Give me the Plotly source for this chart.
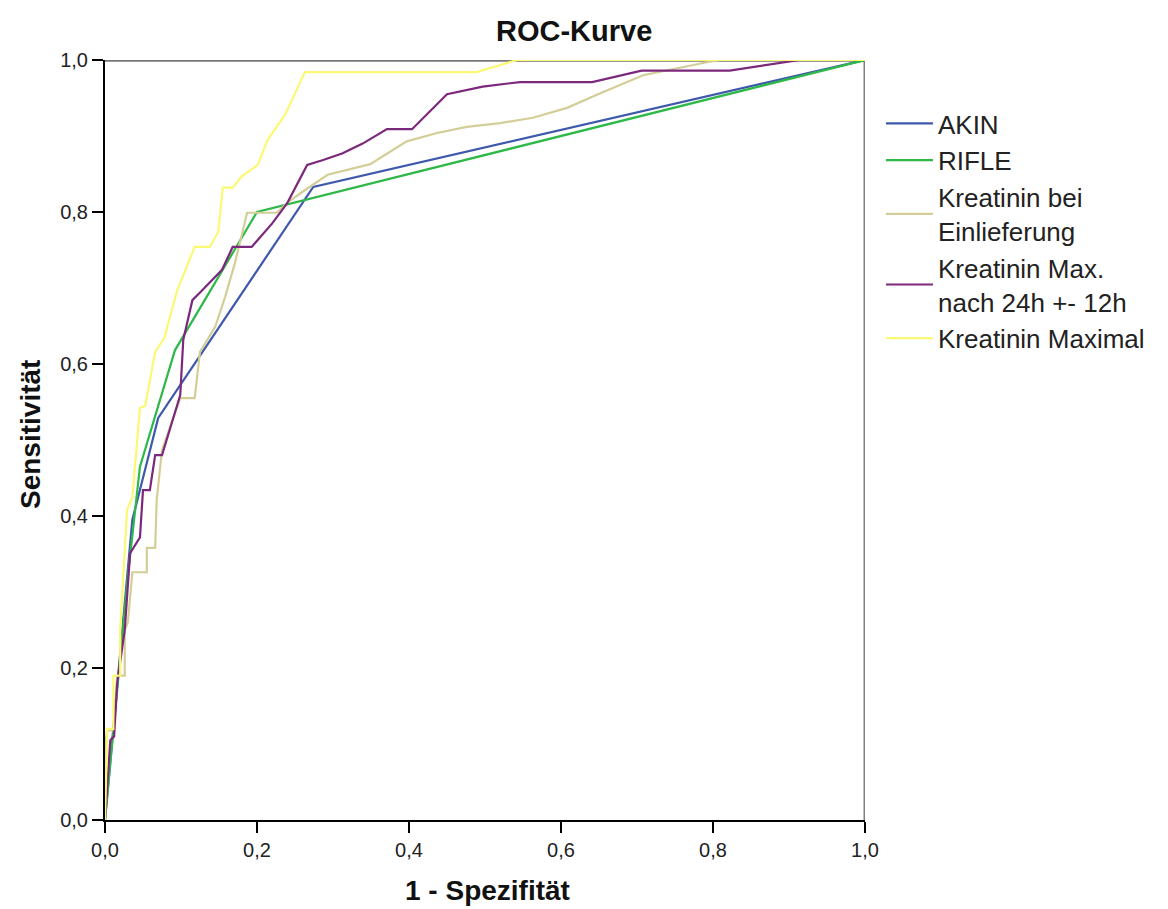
import plotly.graph_objects as go

# ROC curves: false positive rate (1 - specificity) vs. true positive rate (sensitivity)
akin_fpr = [0.0, 0.036, 0.070, 0.274, 1.0]
akin_tpr = [0.0, 0.395, 0.529, 0.833, 1.0]

rifle_fpr = [0.0, 0.017, 0.030, 0.046, 0.068, 0.092, 0.200, 1.0]
rifle_tpr = [0.0, 0.180, 0.320, 0.465, 0.539, 0.618, 0.800, 1.0]

einl_fpr = [0.0, 0.0, 0.003, 0.011, 0.016, 0.026, 0.026, 0.030, 0.036, 0.055, 0.055,
            0.066, 0.068, 0.075, 0.099, 0.118, 0.125, 0.145, 0.158, 0.171, 0.187,
            0.226, 0.241, 0.259, 0.293, 0.349, 0.397, 0.437, 0.476, 0.520, 0.563,
            0.608, 0.651, 0.708, 0.792, 0.810, 1.0]
einl_tpr = [0.0, 0.100, 0.118, 0.118, 0.190, 0.190, 0.250, 0.260, 0.326, 0.326, 0.358,
            0.358, 0.421, 0.487, 0.555, 0.555, 0.616, 0.649, 0.688, 0.733, 0.799,
            0.799, 0.813, 0.826, 0.849, 0.863, 0.893, 0.904, 0.912, 0.917, 0.924,
            0.937, 0.956, 0.980, 0.997, 1.0, 1.0]

max24_fpr = [0.0, 0.007, 0.012, 0.016, 0.026, 0.033, 0.046, 0.050, 0.059, 0.066,
             0.075, 0.099, 0.103, 0.115, 0.126, 0.138, 0.154, 0.168, 0.193, 0.220,
             0.240, 0.266, 0.286, 0.312, 0.339, 0.371, 0.404, 0.450, 0.497, 0.546,
             0.641, 0.706, 0.822, 0.914, 1.0]
max24_tpr = [0.0, 0.105, 0.110, 0.180, 0.250, 0.351, 0.372, 0.434, 0.434, 0.480,
             0.480, 0.559, 0.632, 0.684, 0.695, 0.707, 0.724, 0.754, 0.754, 0.785,
             0.812, 0.862, 0.868, 0.877, 0.890, 0.909, 0.909, 0.955, 0.965, 0.971,
             0.971, 0.986, 0.986, 1.0, 1.0]

maxi_fpr = [0.0, 0.003, 0.011, 0.011, 0.020, 0.020, 0.029, 0.036, 0.046, 0.053,
            0.066, 0.078, 0.095, 0.118, 0.138, 0.149, 0.155, 0.168, 0.180, 0.201,
            0.214, 0.237, 0.263, 0.489, 0.542, 1.0]
maxi_tpr = [0.0, 0.120, 0.120, 0.190, 0.190, 0.250, 0.408, 0.425, 0.542, 0.545,
            0.616, 0.634, 0.697, 0.754, 0.754, 0.774, 0.832, 0.832, 0.847, 0.862,
            0.895, 0.928, 0.984, 0.984, 1.0, 1.0]

series_names = ["AKIN", "RIFLE", "Kreatinin bei<br>Einlieferung",
                "Kreatinin Max.<br>nach 24h +- 12h", "Kreatinin Maximal"]
series_x = [akin_fpr, rifle_fpr, einl_fpr, max24_fpr, maxi_fpr]
series_y = [akin_tpr, rifle_tpr, einl_tpr, max24_tpr, maxi_tpr]
series_colors = ["#3E58AC", "#2EB848", "#D3CE97", "#7C287D", "#FBF873"]

tick_vals = [0.0, 0.2, 0.4, 0.6, 0.8, 1.0]

FONT = "Liberation Sans, Arial, sans-serif"
PLOT_PX = 760          # plot area side length in pixels
TICK_PX = 11           # tick mark length in pixels

fig = go.Figure()
for name, xs, ys, col in zip(series_names, series_x, series_y, series_colors):
    fig.add_trace(go.Scatter(x=xs, y=ys, mode="lines", name=name,
                             line=dict(color=col, width=2.2)))

axis_common = dict(
    range=[0, 1], tickmode="array", tickvals=tick_vals, tickformat=".1f",
    showgrid=False, zeroline=False,
    showline=True, linecolor="black", linewidth=2,
    ticks="outside", ticklen=TICK_PX, tickwidth=2, tickcolor="black",
    tickfont=dict(family=FONT, size=20, color="#222222"),
)

fig.update_layout(
    width=1168, height=909,
    margin=dict(l=105, r=303, t=60, b=89),
    paper_bgcolor="white", plot_bgcolor="white",
    separators=",.",
    xaxis=dict(**axis_common),
    yaxis=dict(**axis_common),
    legend=dict(
        x=1.021, y=(820 - 100) / 760, xanchor="left", yanchor="top",
        font=dict(family=FONT, size=26, color="#222222"),
        bgcolor="rgba(0,0,0,0)", itemwidth=47, tracegroupgap=0,
    ),
    showlegend=True,
)

# frame: top and right edges in grey, drawn below the curves
fig.add_shape(type="line", xref="x", yref="y", x0=0, x1=1, y0=1, y1=1,
              line=dict(color="#777777", width=3.5), layer="below")
fig.add_shape(type="line", xref="x", yref="y", x0=1, x1=1, y0=0, y1=1,
              line=dict(color="#808080", width=3), layer="below")

# explicit outside tick marks on both axes
for v in tick_vals:
    fig.add_shape(type="line", xref="x", yref="paper", x0=v, x1=v,
                  y0=0, y1=-TICK_PX / PLOT_PX,
                  line=dict(color="black", width=2), layer="above")
    fig.add_shape(type="line", xref="paper", yref="y", x0=-TICK_PX / PLOT_PX, x1=0,
                  y0=v, y1=v,
                  line=dict(color="black", width=2), layer="above")

fig.add_annotation(text="<b>ROC-Kurve</b>", xref="paper", yref="paper",
                   x=(574 - 105) / 760, y=(820 - 31) / 760,
                   xanchor="center", yanchor="middle", showarrow=False,
                   font=dict(family=FONT, size=29, color="#111111"))
fig.add_annotation(text="<b>1 - Spezifität</b>", xref="paper", yref="paper",
                   x=(487 - 105) / 760, y=(820 - 890) / 760,
                   xanchor="center", yanchor="middle", showarrow=False,
                   font=dict(family=FONT, size=28, color="#111111"))
fig.add_annotation(text="<b>Sensitivität</b>", xref="paper", yref="paper",
                   x=(30 - 105) / 760, y=(820 - 435) / 760, textangle=-90,
                   xanchor="center", yanchor="middle", showarrow=False,
                   font=dict(family=FONT, size=28, color="#111111"))

fig.write_html("out.html")
